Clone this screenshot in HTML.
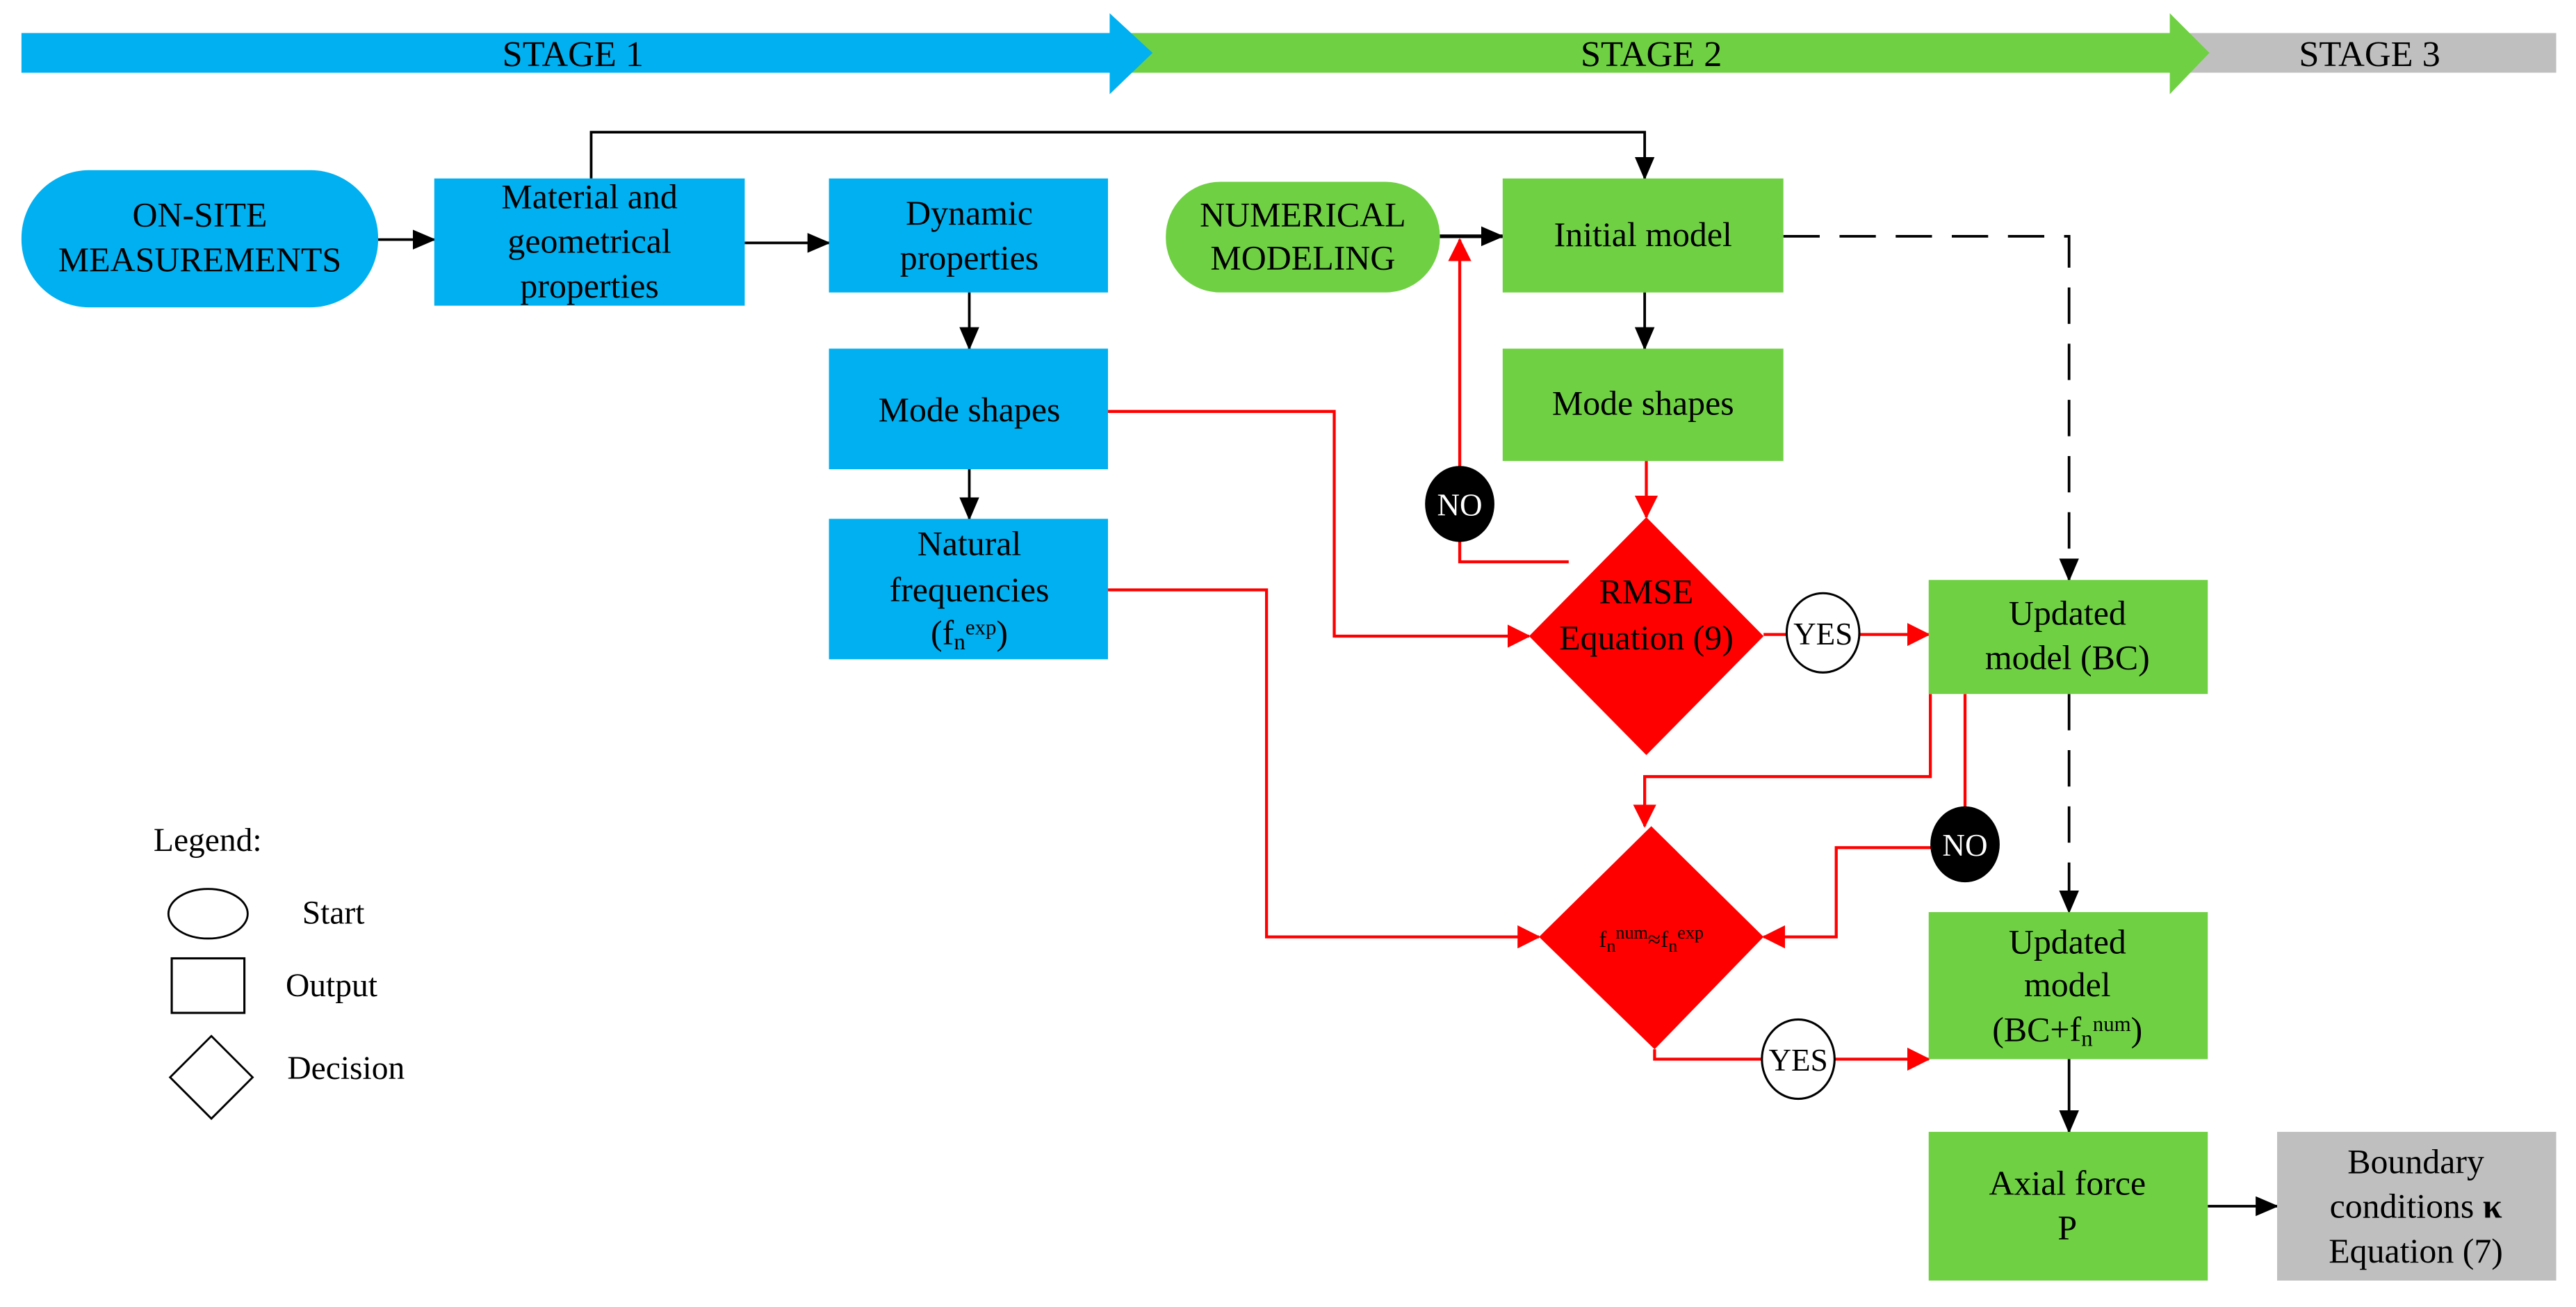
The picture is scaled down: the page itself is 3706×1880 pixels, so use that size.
<!DOCTYPE html>
<html><head><meta charset="utf-8"><style>
html,body{margin:0;padding:0;background:#fff;}
svg{display:block;}
text{font-family:"Liberation Serif",serif;fill:#000;}
</style></head><body>
<svg width="3706" height="1880" viewBox="0 0 1560 791" preserveAspectRatio="none" xmlns="http://www.w3.org/2000/svg">
<defs>
<marker id="ab" markerWidth="14" markerHeight="12" refX="13" refY="6" orient="auto" markerUnits="userSpaceOnUse"><path d="M0,0 L14,6 L0,12 z" fill="#000"/></marker>
<marker id="ar" markerWidth="14" markerHeight="14" refX="13" refY="7" orient="auto" markerUnits="userSpaceOnUse"><path d="M0,0 L14,7 L0,14 z" fill="#f00"/></marker>
</defs>
<rect x="1320" y="20" width="228" height="24" fill="#bfbfbf"/>
<path d="M680,20 L1314,20 L1314,8 L1338,32 L1314,57 L1314,44 L680,44 z" fill="#6fd043"/>
<path d="M13,20 L672,20 L672,8 L698,32 L672,57 L672,44 L13,44 z" fill="#00b0f0"/>
<g font-size="22" text-anchor="middle">
<text x="347" y="40">STAGE 1</text>
<text x="1000" y="40">STAGE 2</text>
<text x="1435" y="40">STAGE 3</text>
</g>
<g stroke="#000" stroke-width="1.6" fill="none">
<line x1="229" y1="145" x2="263" y2="145" marker-end="url(#ab)"/>
<line x1="451" y1="147" x2="502" y2="147" marker-end="url(#ab)"/>
<polyline points="358,108 358,80 996,80 996,108" marker-end="url(#ab)"/>
<line x1="587" y1="177" x2="587" y2="211" marker-end="url(#ab)"/>
<line x1="587" y1="284" x2="587" y2="314" marker-end="url(#ab)"/>
<line x1="872" y1="143" x2="910" y2="143" marker-end="url(#ab)" stroke-width="2.2"/>
<line x1="996" y1="177" x2="996" y2="211" marker-end="url(#ab)"/>
<polyline points="1080,143 1253,143 1253,351" stroke-dasharray="22,12" marker-end="url(#ab)"/>
<line x1="1253" y1="420" x2="1253" y2="552" stroke-dasharray="22,12" marker-end="url(#ab)"/>
<line x1="1253" y1="641" x2="1253" y2="685" marker-end="url(#ab)"/>
<line x1="1337" y1="730" x2="1379" y2="730" marker-end="url(#ab)"/>
</g>
<g stroke="#f00" stroke-width="1.8" fill="none">
<polyline points="671,249 808,249 808,385 926,385" marker-end="url(#ar)"/>
<polyline points="671,357 767,357 767,567 932,567" marker-end="url(#ar)"/>
<line x1="997" y1="279" x2="997" y2="313" marker-end="url(#ar)"/>
<polyline points="950,340 884,340 884,145" marker-end="url(#ar)"/>
<line x1="1068" y1="384" x2="1168" y2="384" marker-end="url(#ar)"/>
<polyline points="1169,420 1169,470 996,470 996,500" marker-end="url(#ar)"/>
<line x1="1190" y1="420" x2="1190" y2="495"/>
<polyline points="1170,513 1112,513 1112,567 1068,567" marker-end="url(#ar)"/>
<polyline points="1002,635 1002,641 1168,641" marker-end="url(#ar)"/>
</g>
<rect x="13" y="103" width="216" height="83" rx="41" fill="#00b0f0"/>
<rect x="263" y="108" width="188" height="77" fill="#00b0f0"/>
<rect x="502" y="108" width="169" height="69" fill="#00b0f0"/>
<rect x="502" y="211" width="169" height="73" fill="#00b0f0"/>
<rect x="502" y="314" width="169" height="85" fill="#00b0f0"/>
<rect x="706" y="110" width="166" height="67" rx="33" fill="#6fd043"/>
<rect x="910" y="108" width="170" height="69" fill="#6fd043"/>
<rect x="910" y="211" width="170" height="68" fill="#6fd043"/>
<rect x="1168" y="351" width="169" height="69" fill="#6fd043"/>
<rect x="1168" y="552" width="169" height="89" fill="#6fd043"/>
<rect x="1168" y="685" width="169" height="90" fill="#6fd043"/>
<rect x="1379" y="685" width="169" height="90" fill="#bfbfbf"/>
<polygon points="997,313 1068,385 997,457 926,385" fill="#f00"/>
<polygon points="1000,500 1068,567 1002,635 932,567" fill="#f00"/>
<ellipse cx="1104" cy="383" rx="22" ry="24" fill="#fff" stroke="#000" stroke-width="1.3"/>
<ellipse cx="1089" cy="641" rx="22" ry="24" fill="#fff" stroke="#000" stroke-width="1.3"/>
<ellipse cx="884" cy="305" rx="21" ry="23" fill="#000"/>
<ellipse cx="1190" cy="511" rx="21" ry="23" fill="#000"/>
<g font-size="21" text-anchor="middle">
<text x="121" y="137">ON-SITE</text>
<text x="121" y="164">MEASUREMENTS</text>
<text x="357" y="126">Material and</text>
<text x="357" y="153">geometrical</text>
<text x="357" y="180">properties</text>
<text x="587" y="136">Dynamic</text>
<text x="587" y="163">properties</text>
<text x="587" y="255">Mode shapes</text>
<text x="587" y="336">Natural</text>
<text x="587" y="364">frequencies</text>
<text x="587" y="390">(f<tspan font-size="14" dy="3">n</tspan><tspan font-size="13" dy="-9">exp</tspan><tspan dy="6">)</tspan></text>
<text x="789" y="137">NUMERICAL</text>
<text x="789" y="163">MODELING</text>
<text x="995" y="149">Initial model</text>
<text x="995" y="251">Mode shapes</text>
<text x="997" y="365">RMSE</text>
<text x="997" y="393">Equation (9)</text>
<text x="1252" y="378">Updated</text>
<text x="1252" y="405">model (BC)</text>
<text x="1252" y="577">Updated</text>
<text x="1252" y="603">model</text>
<text x="1252" y="630">(BC+f<tspan font-size="14" dy="3">n</tspan><tspan font-size="13" dy="-9">num</tspan><tspan dy="6">)</tspan></text>
<text x="1252" y="723">Axial force</text>
<text x="1252" y="750">P</text>
<text x="1463" y="710">Boundary</text>
<text x="1463" y="737">conditions <tspan font-weight="bold">κ</tspan></text>
<text x="1463" y="764">Equation (7)</text>
<text x="1000" y="573" font-size="14">f<tspan font-size="11" dy="3">n</tspan><tspan font-size="11" dy="-8">num</tspan><tspan dy="5">≈f</tspan><tspan font-size="11" dy="3">n</tspan><tspan font-size="11" dy="-8">exp</tspan></text>
<text x="1104" y="390" font-size="19">YES</text>
<text x="1089" y="648" font-size="19">YES</text>
<text x="884" y="312" font-size="19" style="fill:#fff">NO</text>
<text x="1190" y="518" font-size="19" style="fill:#fff">NO</text>
</g>
<g font-size="20">
<text x="93" y="515">Legend:</text>
<text x="183" y="559">Start</text>
<text x="173" y="603">Output</text>
<text x="174" y="653">Decision</text>
</g>
<ellipse cx="126" cy="553" rx="24" ry="15" fill="none" stroke="#000" stroke-width="1.2"/>
<rect x="104" y="580" width="44" height="33" fill="none" stroke="#000" stroke-width="1.3"/>
<polygon points="128,627 153,652 128,677 103,652" fill="none" stroke="#000" stroke-width="1.2"/>
</svg>
</body></html>
